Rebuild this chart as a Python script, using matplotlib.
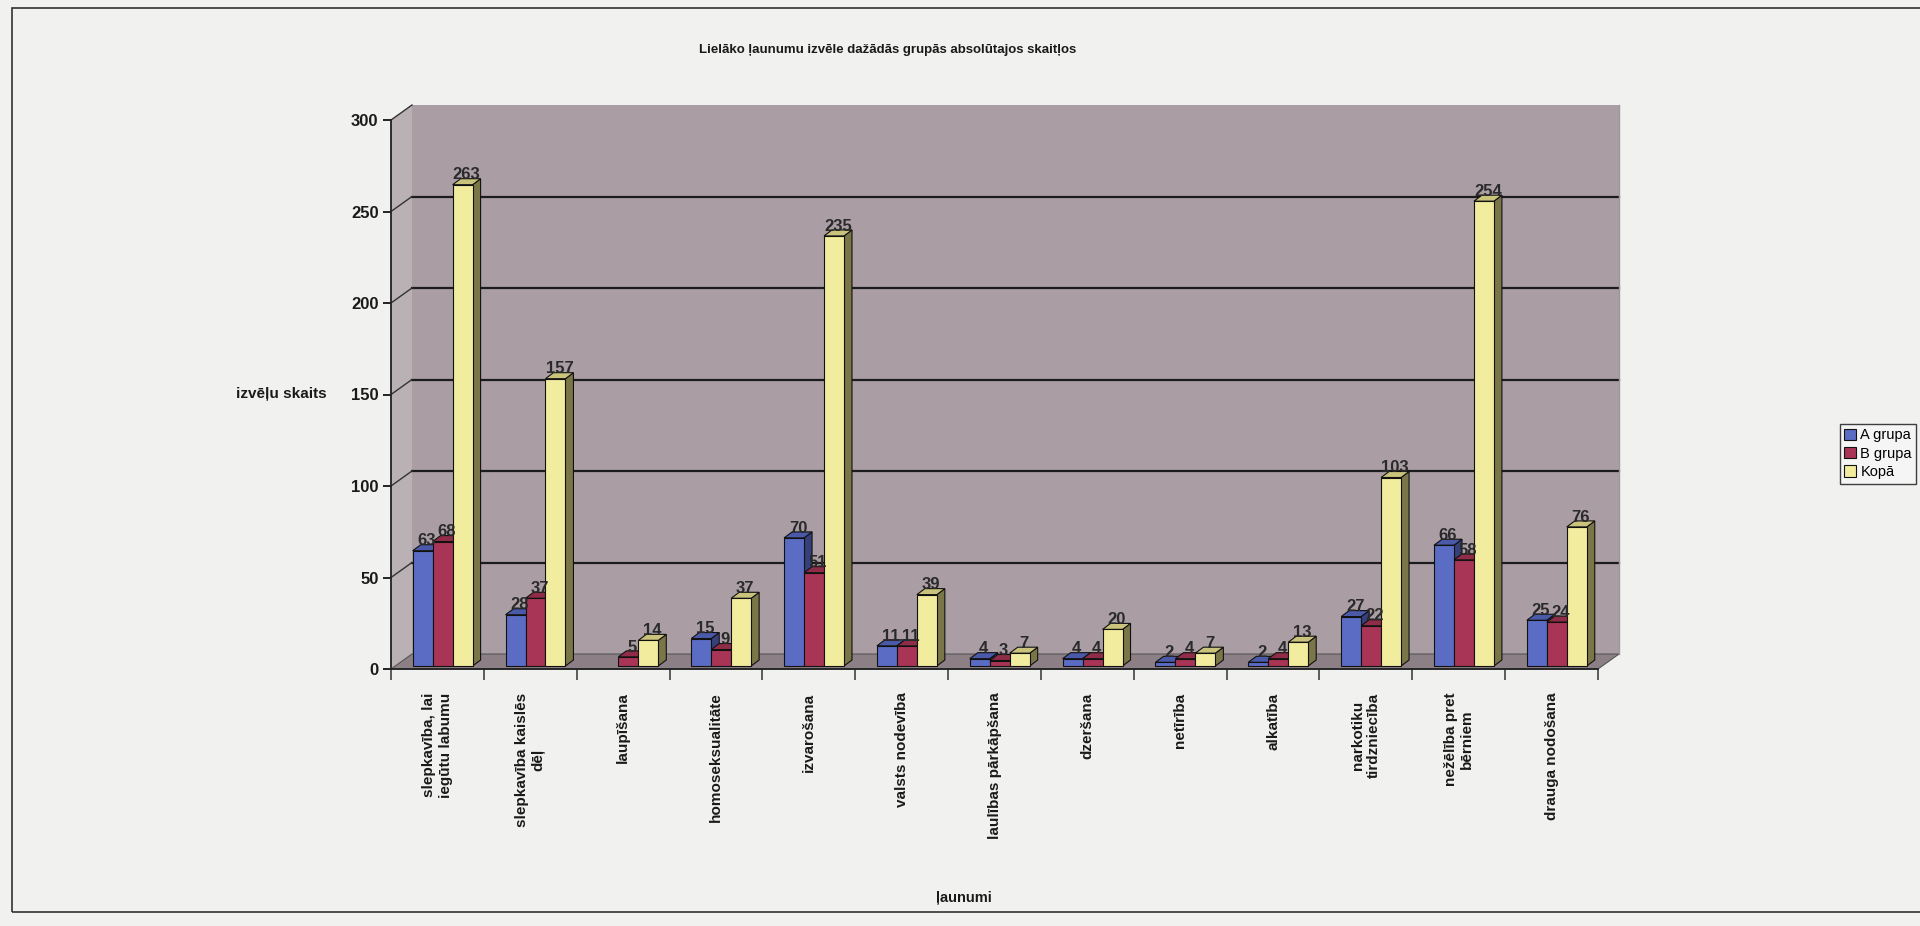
import matplotlib.pyplot as plt
from matplotlib.patches import Polygon, Rectangle, Patch

plt.rcParams["font.family"] = ["Liberation Sans", "DejaVu Sans"]

# data
categories = [
    "slepkavība, lai\niegūtu labumu",
    "slepkavība kaislēs\ndēļ",
    "laupīšana",
    "homoseksualitāte",
    "izvarošana",
    "valsts nodevība",
    "laulības pārkāpšana",
    "dzeršana",
    "netīrība",
    "alkatība",
    "narkotiku\ntirdzniecība",
    "nežēlība pret\nbērniem",
    "drauga nodošana",
]
group_a = [63, 28, 0, 15, 70, 11, 4, 4, 2, 2, 27, 66, 25]
group_b = [68, 37, 5, 9, 51, 11, 3, 4, 4, 4, 22, 58, 24]
total = [263, 157, 14, 37, 235, 39, 7, 20, 7, 13, 103, 254, 76]
series_names = ["A grupa", "B grupa", "Kopā"]
y_ticks = [0, 50, 100, 150, 200, 250, 300]

W, H = 1920, 926
fig = plt.figure(figsize=(W / 100, H / 100), dpi=100)
fig.patch.set_facecolor("#f1f1ef")

# plot area in pixels
x0, x1 = 391, 1598
y0, y1 = 669, 120
n = len(categories)
ax = fig.add_axes([x0 / W, 1 - y0 / H, (x1 - x0) / W, (y0 - y1) / H])
ax.set_xlim(0, n)
ax.set_ylim(0, 300)
ax.patch.set_alpha(0)

px_x = (x1 - x0) / n          # pixels per category
px_y = (y0 - y1) / 300        # pixels per unit


def off(dx_px, dy_px):
    return dx_px / px_x, dy_px / px_y


# walls and floor
wdx, wdy = off(21, 15)
wall_col, side_col, floor_col = "#aa9ea4", "#bab1b5", "#8c7f86"
ax.add_patch(Polygon([(wdx, wdy), (n + wdx, wdy), (n + wdx, 300 + wdy), (wdx, 300 + wdy)],
                     closed=True, facecolor=wall_col, edgecolor="none", clip_on=False, zorder=0))
ax.add_patch(Polygon([(0, 0), (wdx, wdy), (wdx, 300 + wdy), (0, 300)],
                     closed=True, facecolor=side_col, edgecolor="none", clip_on=False, zorder=0))
ax.add_patch(Polygon([(0, 0), (n, 0), (n + wdx, wdy), (wdx, wdy)],
                     closed=True, facecolor=floor_col, edgecolor="#555", lw=0.8,
                     clip_on=False, zorder=1))

# gridlines on the back wall plus the connectors on the side wall
for v in y_ticks[1:]:
    if v < 300:
        ax.plot([wdx, n + wdx], [v + wdy, v + wdy], color="#1c1c1c", lw=1.6,
                clip_on=False, zorder=1)
    ax.plot([0, wdx], [v, v + wdy], color="#333", lw=1.0, clip_on=False, zorder=1)
ax.plot([n + wdx, n + wdx], [wdy, 300 + wdy], color="#9a9a9a", lw=1.0, clip_on=False, zorder=1)

# 3d columns
colors = ["#5b6cc4", "#a83555", "#f2ec9e"]
sides = ["#36407a", "#6a1f35", "#7a7648"]
tops = ["#4a5aa8", "#8f2c48", "#c9c37c"]
bw = 0.215
sx, sy = off(5, 3)
bdx, bdy = off(8, 6)

for s, vals in enumerate([group_a, group_b, total]):
    for i, v in enumerate(vals):
        left = i + 0.18 + s * bw + sx
        right = left + bw
        b, t = sy, v + sy
        if v > 0:
            # side face
            ax.add_patch(Polygon([(right, b), (right + bdx, b + bdy), (right + bdx, t + bdy), (right, t)],
                                 closed=True, facecolor=sides[s], edgecolor="#111", lw=0.8,
                                 clip_on=False, zorder=3 + s))
            # top face
            ax.add_patch(Polygon([(left, t), (right, t), (right + bdx, t + bdy), (left + bdx, t + bdy)],
                                 closed=True, facecolor=tops[s], edgecolor="#111", lw=0.8,
                                 clip_on=False, zorder=3 + s))
            # front face
            ax.add_patch(Rectangle((left, b), bw, v, facecolor=colors[s], edgecolor="#111",
                                   lw=0.8, clip_on=False, zorder=3 + s))
            ax.text(left + bw / 2 + bdx / 2, t + bdy - 2, str(v), ha="center", va="bottom",
                    fontsize=12, fontweight="bold", color="#2a2a2a", zorder=10)

# axes
for sp in ["top", "right"]:
    ax.spines[sp].set_visible(False)
ax.spines["left"].set_color("#222")
ax.spines["bottom"].set_color("#222")
ax.spines["left"].set_linewidth(1.3)
ax.spines["bottom"].set_linewidth(1.3)

ax.set_yticks(y_ticks)
ax.set_yticklabels([str(v) for v in y_ticks], fontsize=12, fontweight="bold", color="#1a1a1a")
ax.tick_params(axis="y", length=6, width=1.2, pad=3)

ax.set_xticks([i for i in range(n + 1)], minor=True)
ax.set_xticks([i + 0.5 for i in range(n)])
ax.set_xticklabels(categories, rotation=90, fontsize=11, fontweight="bold",
                   va="top", ha="center", multialignment="center", color="#1a1a1a")
ax.tick_params(axis="x", which="major", length=0, pad=17)
ax.tick_params(axis="x", which="minor", length=8, width=1.1, color="#333")

fig.text(327 / W, 1 - 394 / H, "izvēļu skaits", ha="right", va="center",
         fontsize=11, fontweight="bold", color="#1a1a1a")
fig.text(964 / W, 1 - 898 / H, "ļaunumi", ha="center", va="center",
         fontsize=10.5, fontweight="bold", color="#1a1a1a")
fig.text(888 / W, 1 - 50 / H, "Lielāko ļaunumu izvēle dažādās grupās absolūtajos skaitļos",
         ha="center", va="center", fontsize=9.5, fontweight="bold", color="#1a1a1a")

# outer frame
fig.add_artist(Rectangle((12 / W, 1 - 912 / H), 1.0, (912 - 8) / H, transform=fig.transFigure,
                         fill=False, edgecolor="#333", lw=1.2))

handles = [Patch(facecolor=c, edgecolor="#111", lw=0.8) for c in colors]
leg = fig.legend(handles, series_names, loc="upper left",
                 bbox_to_anchor=(1840 / W, 1 - 424 / H), fontsize=10.5, frameon=True,
                 fancybox=False, handlelength=0.8, handleheight=0.8, handletextpad=0.3,
                 borderpad=0.3, labelspacing=0.3, borderaxespad=0)
leg.get_frame().set_edgecolor("#111")
leg.get_frame().set_facecolor("#f7f7f7")
leg.get_frame().set_linewidth(1.0)

fig.savefig("out.png", dpi=100, facecolor=fig.get_facecolor())
